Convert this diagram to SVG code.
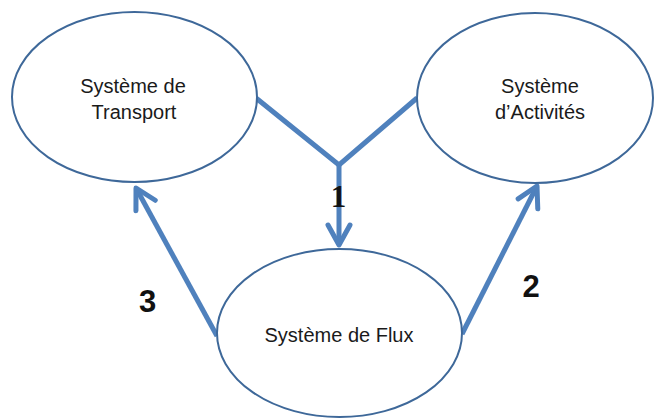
<svg xmlns="http://www.w3.org/2000/svg" width="655" height="419" viewBox="0 0 655 419">
<style>
.node ellipse{fill:#ffffff;stroke:#3e6899;stroke-width:2}
.lbl{font-family:"Liberation Sans",Arial,sans-serif;font-size:20px;fill:#1a1a1a;text-anchor:middle}
.num{font-family:"Liberation Sans",Arial,sans-serif;font-weight:bold;font-size:31px;fill:#111111;text-anchor:middle}
.conn{fill:none;stroke:#4f81bd;stroke-width:5;stroke-linejoin:miter}
</style>
<defs>
<marker id="chev" markerUnits="userSpaceOnUse" viewBox="-25 -15 30 30" refX="0" refY="0" markerWidth="30" markerHeight="30" orient="auto" overflow="visible">
<path d="M-20 -11 L0 0 L-20 11" fill="none" stroke="#4f81bd" stroke-width="5" stroke-linecap="round" stroke-linejoin="round"/>
</marker>
</defs>
<rect width="655" height="419" fill="#ffffff"/>
<g id="connectors">
<path class="conn" d="M256 98 L339 165 L417 98"/>
<path class="conn" d="M339 165 V245" marker-end="url(#chev)"/>
<path class="conn" d="M217 336 L136 188" marker-end="url(#chev)"/>
<path class="conn" d="M462 334 L537 186" marker-end="url(#chev)"/>
</g>
<g id="node-transport" class="node">
<ellipse cx="134.5" cy="97" rx="122.5" ry="85"/>
<text class="lbl" x="133" y="93">Système de</text>
<text class="lbl" x="134" y="119">Transport</text>
</g>
<g id="node-activites" class="node">
<ellipse cx="535" cy="98" rx="118" ry="85"/>
<text class="lbl" x="540" y="93">Système</text>
<text class="lbl" x="540" y="119">d’Activités</text>
</g>
<g id="node-flux" class="node">
<ellipse cx="339.5" cy="333" rx="122.5" ry="84"/>
<text class="lbl" x="339" y="342">Système de Flux</text>
</g>
<g id="labels">
<text class="num" x="338.5" y="207" style="font-family:'Liberation Serif',serif">1</text>
<text class="num" x="147.5" y="312">3</text>
<text class="num" x="531" y="297">2</text>
</g>
</svg>
